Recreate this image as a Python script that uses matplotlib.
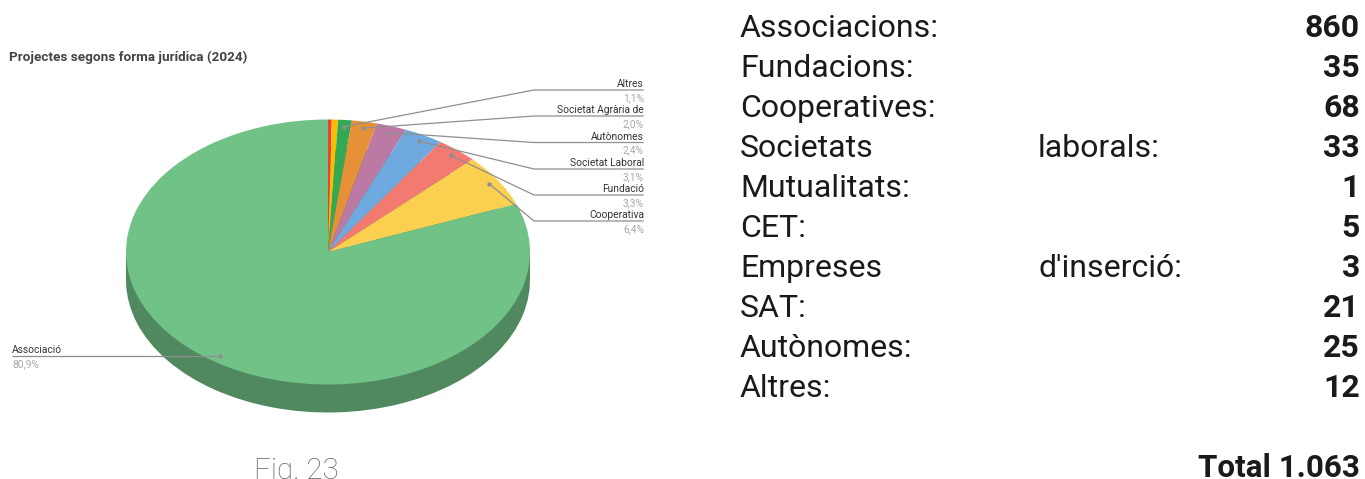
import numpy as np
import matplotlib
matplotlib.use("Agg")
import matplotlib.pyplot as plt
from matplotlib.patches import Rectangle

# === DATA ===
slice_names = ["Mutualitat", "CET", "Altres", "Societat Agrària de", "Autònomes",
               "Societat Laboral", "Fundació", "Cooperativa", "Associació"]
slice_values = [0.3, 0.5, 1.1, 2.0, 2.4, 3.1, 3.3, 6.4, 80.9]
slice_colors = ["#ea4335", "#fbbc04", "#34a853", "#e69138", "#bc79a3",
                "#6eaadf", "#f27a70", "#fbcf4f", "#71c287"]
slice_pct = ["", "", "1,1%", "2,0%", "2,4%", "3,1%", "3,3%", "6,4%", "80,9%"]

table_left = ["Associacions:", "Fundacions:", "Cooperatives:", "Societats", "Mutualitats:",
              "CET:", "Empreses", "SAT:", "Autònomes:", "Altres:"]
table_mid = ["", "", "", "laborals:", "", "", "d'inserció:", "", "", ""]
table_values = ["860", "35", "68", "33", "1", "5", "3", "21", "25", "12"]

# === LAYOUT (pixels) ===
W, H = 1365, 479
CX, CY, RX, RY, DEPTH = 328, 252, 202, 132.5, 28
SIDE_COLOR = "#50885f"
LINE_COLOR = "#8f8f8f"
FONT = "Roboto"

fig = plt.figure(figsize=(W / 100, H / 100), dpi=100)

# pie axes spans exactly the ellipse, so the circle gets squashed
pie_ax = fig.add_axes([(CX - RX) / W, 1 - (CY + RY) / H, 2 * RX / W, 2 * RY / H])
pie_ax.pie(slice_values, colors=[SIDE_COLOR] * len(slice_values), startangle=90,
           counterclock=False, center=(0, -DEPTH / RY), radius=1, frame=True)
pie_ax.add_patch(Rectangle((-1, -DEPTH / RY), 2, DEPTH / RY, color=SIDE_COLOR, lw=0))
wedges, _ = pie_ax.pie(slice_values, colors=slice_colors, startangle=90, counterclock=False,
                       radius=1, frame=True)
pie_ax.set_aspect("auto")
pie_ax.set_xlim(-1, 1)
pie_ax.set_ylim(-1, 1)
pie_ax.axis("off")
for p in pie_ax.patches:
    p.set_clip_on(False)

# overlay in pixel coords for labels and leaders
ax = fig.add_axes([0, 0, 1, 1], facecolor="none")
ax.set_xlim(0, W)
ax.set_ylim(H, 0)
ax.axis("off")

ax.text(9, 61, "Projectes segons forma jurídica (2024)", fontsize=9.7, fontweight="bold",
        color="#444444", family=FONT)

# === LEADER LINES ===
elbows = {"Altres": 90, "Societat Agrària de": 116, "Autònomes": 142.5,
          "Societat Laboral": 169, "Fundació": 195, "Cooperativa": 221}
mids = (np.cumsum(slice_values) - np.array(slice_values) / 2) / sum(slice_values) * 2 * np.pi

for name, pct, mid in zip(slice_names, slice_pct, mids):
    if not pct:
        continue
    px = CX + 0.95 * RX * np.sin(mid)
    py = CY - 0.95 * RY * np.cos(mid)
    if name == "Associació":
        ax.plot([12, px], [py, py], color=LINE_COLOR, lw=0.9, solid_capstyle="butt")
        ax.plot([px], [py], "o", color=LINE_COLOR, ms=2.2)
        ax.text(12, py - 3, name, fontsize=7.4, color="#333333", family=FONT)
        ax.text(12, py + 11, pct, fontsize=7.4, color="#a8a8a8", family=FONT)
        continue
    ey = elbows[name]
    ax.plot([px, 534, 643], [py, ey, ey], color=LINE_COLOR, lw=0.9, solid_joinstyle="miter")
    ax.plot([px], [py], "o", color=LINE_COLOR, ms=2.2)
    ax.text(644, ey - 3, name, fontsize=7.4, color="#333333", ha="right", family=FONT)
    ax.text(644, ey + 11, pct, fontsize=7.4, color="#a8a8a8", ha="right", family=FONT)

# === TABLE ===
for i, (left, mid, val) in enumerate(zip(table_left, table_mid, table_values)):
    y = 37 + 40 * i
    ax.text(740, y, left, fontsize=23, color="#1a1a1a", family=FONT)
    if mid:
        ax.text(1038, y, mid, fontsize=23, color="#1a1a1a", family=FONT)
    ax.text(1360, y, val, fontsize=23, fontweight="bold", color="#1a1a1a", ha="right", family=FONT)

ax.text(1360, 477, "Total 1.063", fontsize=22.6, fontweight="bold", color="#1a1a1a", ha="right", family=FONT)
ax.text(254, 479, "Fig. 23", fontsize=21.2, fontweight="light", color="#666666", family=FONT)

fig.savefig("out.png", dpi=100)
